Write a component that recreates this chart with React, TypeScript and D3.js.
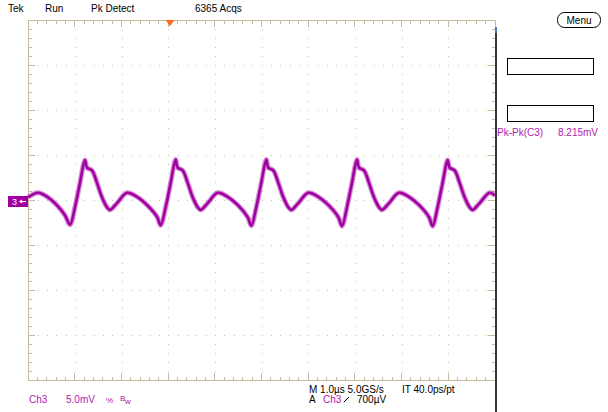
import * as d3 from 'd3'

// Ch3 trace, time in µs from left edge of screen, value in mV
const traceTimeUs = [
  0.0, 0.207, 0.421, 0.636, 0.786,
  0.893, 1.0, 1.107, 1.214, 1.257, 1.364, 1.472, 1.579, 1.686, 1.75, 1.9, 2.114, 2.329, 2.543, 2.757,
  2.836, 2.943, 3.05, 3.157, 3.2, 3.307, 3.415, 3.522, 3.629, 3.693, 3.843, 4.057, 4.272, 4.486, 4.7,
  4.778, 4.885, 4.992, 5.099, 5.142, 5.249, 5.357, 5.464, 5.571, 5.635, 5.785, 5.999, 6.214, 6.428, 6.642,
  6.721, 6.828, 6.935, 7.042, 7.085, 7.192, 7.3, 7.407, 7.514, 7.578, 7.728, 7.942, 8.157, 8.371, 8.585,
  8.663, 8.77, 8.877, 8.984, 9.027, 9.134, 9.242, 9.349, 9.456, 9.52, 9.67, 9.884, 10.0,
]
const traceMv = [
  0.3, 0.8, 0.3, -0.7, -1.7,
  -2.75, -0.8, 1.9, 4.45, 3.6, 3.3, 1.9, 0.3, -0.8, -1.1, -0.35, 0.8, 0.35, -0.55, -1.85,
  -2.8, -0.8, 1.9, 4.5, 3.6, 3.3, 1.9, 0.3, -0.8, -1.1, -0.35, 0.8, 0.35, -0.55, -1.9,
  -2.85, -0.8, 1.9, 4.5, 3.6, 3.3, 1.9, 0.3, -0.8, -1.1, -0.35, 0.8, 0.35, -0.55, -1.9,
  -2.9, -0.8, 1.9, 4.5, 3.6, 3.3, 1.9, 0.3, -0.8, -1.1, -0.35, 0.8, 0.35, -0.55, -1.9,
  -2.9, -0.8, 1.9, 4.45, 3.6, 3.3, 1.9, 0.3, -0.8, -1.1, -0.35, 0.8, 0.5,
]

const topLabels = [
  { text: 'Tek', x: 8 },
  { text: 'Run', x: 45 },
  { text: 'Pk Detect', x: 91 },
  { text: '6365 Acqs', x: 195 },
]

const triggerTimeUs = 3.036
const xDivs = 10
const yDivs = 8
const voltsPerDiv = 5 // mV
const timePerDiv = 1 // µs

const W = 608
const H = 412
const plot = { left: 28.3, right: 495, top: 20, bottom: 380 }

const GRID = '#c4bb9c'
const DOT = '#c6c3b4'
const PURPLE = '#a000a0'
const TEXT_PURPLE = '#b020b0'

export default function App() {
  const x = d3.scaleLinear().domain([0, xDivs * timePerDiv]).range([plot.left, plot.right])
  const y = d3.scaleLinear()
    .domain([-(yDivs / 2) * voltsPerDiv, (yDivs / 2) * voltsPerDiv])
    .range([plot.bottom, plot.top])

  const pts: [number, number][] = traceTimeUs.map((t, i) => [t, traceMv[i]])
  const line = d3.line<[number, number]>()
    .x(d => x(d[0]))
    .y(d => y(d[1]))
    .curve(d3.curveCatmullRom.alpha(0.5))
  const path = line(pts) ?? ''

  const minorX = d3.range(0, xDivs * 5 + 1).map(i => (i / 5) * timePerDiv)
  const minorY = d3.range(0, yDivs * 5 + 1).map(i => -(yDivs / 2) * voltsPerDiv + (i / 5) * voltsPerDiv)
  const majorX = d3.range(1, xDivs).map(i => i * timePerDiv)
  const majorY = d3.range(1, yDivs).map(i => -(yDivs / 2) * voltsPerDiv + i * voltsPerDiv)

  const font = '"Liberation Sans", Arial, sans-serif'
  const tx = x(triggerTimeUs)

  return (
    <svg width={W} height={H} style={{ position: 'absolute', left: 0, top: 0, background: '#fff' }}
      fontFamily={font} fontSize={10}>
      <rect width={W} height={H} fill="#fff" />

      {/* dotted grid */}
      <g fill={DOT}>
        {majorX.map(v => minorY.map(mv => (
          <rect key={`vx${v}-${mv}`} x={Math.round(x(v))} y={Math.round(y(mv))} width={1} height={1} />
        )))}
        {majorY.map(mv => minorX.map(v => (
          <rect key={`hy${mv}-${v}`} x={Math.round(x(v))} y={Math.round(y(mv))} width={1} height={1} />
        )))}
      </g>

      {/* border + ticks */}
      <g stroke={GRID} strokeWidth={1} shapeRendering="crispEdges">
        <rect x={plot.left} y={plot.top} width={plot.right - plot.left} height={plot.bottom - plot.top} fill="none" />
        {minorX.map((v, i) => {
          const len = i % 5 === 0 ? 7 : 3.5
          return (
            <g key={`tx${i}`}>
              <line x1={x(v)} x2={x(v)} y1={plot.top} y2={plot.top + len} />
              <line x1={x(v)} x2={x(v)} y1={plot.bottom} y2={plot.bottom - len} />
            </g>
          )
        })}
        {minorY.map((v, i) => {
          const len = i % 5 === 0 ? 7 : 3.5
          return (
            <g key={`ty${i}`}>
              <line x1={plot.left} x2={plot.left + len} y1={y(v)} y2={y(v)} />
              <line x1={plot.right} x2={plot.right - len} y1={y(v)} y2={y(v)} />
            </g>
          )
        })}
      </g>

      {/* trace */}
      <path d={path} fill="none" stroke={PURPLE} strokeOpacity={0.45} strokeWidth={5} strokeLinejoin="round" />
      <path d={path} fill="none" stroke={PURPLE} strokeWidth={2.6} strokeLinejoin="round" />

      {/* right panel divider */}
      <line x1={496} x2={496} y1={27} y2={H} stroke="#3a3a3a" strokeWidth={2} />
      <line x1={496} x2={496} y1={27} y2={33} stroke="#4a7cc0" strokeWidth={2} />

      {/* trigger position marker */}
      <path d={`M${tx - 4.5},${plot.top} L${tx + 4.5},${plot.top} L${tx},${plot.top + 6} Z`} fill="#ff6a1a" />

      {/* ground marker */}
      <rect x={8} y={y(0) - 4} width={20} height={11} fill={PURPLE} />
      <text x={12} y={y(0) + 5} fill="#fff" fontSize={9}>3</text>
      <line x1={20} x2={26} y1={y(0) + 1.5} y2={y(0) + 1.5} stroke="#fff" strokeWidth={1} />
      <path d={`M19,${y(0) + 1.5} L22,${y(0) - 0.5} L22,${y(0) + 3.5} Z`} fill="#fff" />

      {/* top status */}
      {topLabels.map(l => (
        <text key={l.text} x={l.x} y={12} fill="#000">{l.text}</text>
      ))}

      {/* menu button */}
      <rect x={557.5} y={12.5} width={43} height={15} rx={7} fill="#fff" stroke="#000" strokeWidth={1} />
      <text x={579} y={24} textAnchor="middle" fill="#000">Menu</text>

      {/* measurement boxes */}
      <rect x={507.5} y={58.5} width={86} height={16} fill="#fff" stroke="#000" />
      <rect x={507.5} y={105.5} width={86} height={16} fill="#fff" stroke="#000" />
      <text x={497} y={136} fill={TEXT_PURPLE}>Pk-Pk(C3)</text>
      <text x={558} y={136} fill={TEXT_PURPLE}>8.215mV</text>

      {/* bottom readouts */}
      <text x={29} y={403} fill={TEXT_PURPLE}>Ch3</text>
      <text x={66} y={403} fill={TEXT_PURPLE}>5.0mV</text>
      <text x={106} y={403} fill={TEXT_PURPLE} fontSize={8}>%</text>
      <text x={120} y={401} fill={TEXT_PURPLE} fontSize={8}>B</text>
      <text x={125} y={404} fill={TEXT_PURPLE} fontSize={8}>w</text>

      <text x={309} y={393} fill="#000">M 1.0µs 5.0GS/s</text>
      <text x={402} y={393} fill="#000">IT 40.0ps/pt</text>
      <text x={309} y={403} fill="#000">A</text>
      <text x={323} y={403} fill={TEXT_PURPLE}>Ch3</text>
      <line x1={344} x2={349} y1={402} y2={397} stroke="#000" strokeWidth={1} />
      <text x={357} y={403} fill="#000">700µV</text>
    </svg>
  )
}
